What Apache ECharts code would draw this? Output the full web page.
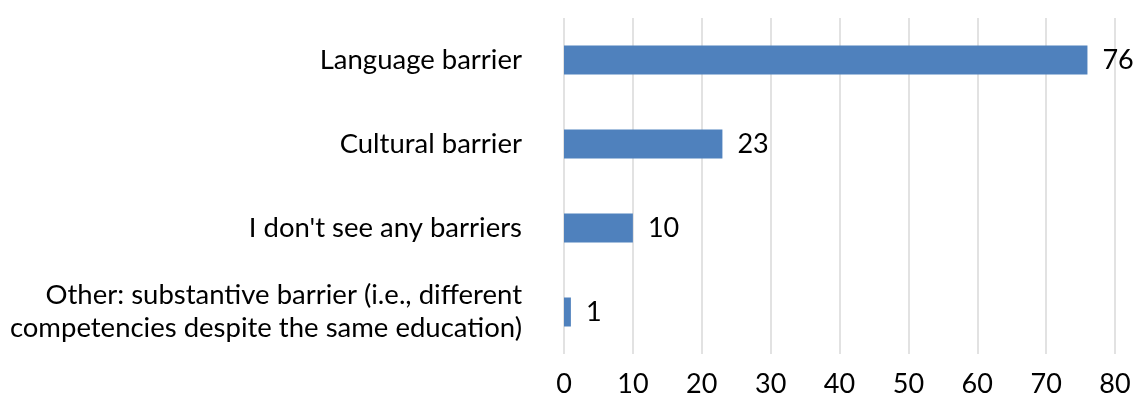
<!DOCTYPE html>
<html><head><meta charset="utf-8">
<script src="https://cdn.jsdelivr.net/npm/echarts@6/dist/echarts.min.js"></script>
<style>html,body{margin:0;padding:0;background:#fff}#c{width:1136px;height:403px}</style>
</head><body><div id="c"></div>
<script>
const categories = ["Language barrier", "Cultural barrier", "I don't see any barriers", "Other: substantive barrier (i.e., different\ncompetencies despite the same education)"];
const values = [76, 23, 10, 1];
const xTicks = [0, 10, 20, 30, 40, 50, 60, 70, 80];

const chart = echarts.init(document.getElementById('c'));
chart.setOption({
  animation: false,
  textStyle: { fontFamily: 'Lato' },
  grid: { left: 564, right: 21, top: 18, bottom: 49 },
  xAxis: {
    type: 'value', min: xTicks[0], max: xTicks[xTicks.length - 1], interval: 10,
    axisLine: { show: false }, axisTick: { show: false },
    splitLine: { lineStyle: { color: '#d9d9d9', width: 1.5 } },
    axisLabel: { fontSize: 27, color: '#000', margin: 17, fontFamily: 'Lato' }
  },
  yAxis: {
    type: 'category', data: categories, inverse: true,
    axisLine: { show: false }, axisTick: { show: false },
    axisLabel: { fontSize: 27.5, color: '#000', margin: 42, lineHeight: 33, align: 'right', fontFamily: 'Lato' }
  },
  series: [{
    type: 'bar', data: values, barWidth: 29,
    itemStyle: { color: '#4f81bd' },
    label: { show: true, position: 'right', distance: 15, fontSize: 27, color: '#000', fontFamily: 'Lato' }
  }]
});
</script></body></html>
